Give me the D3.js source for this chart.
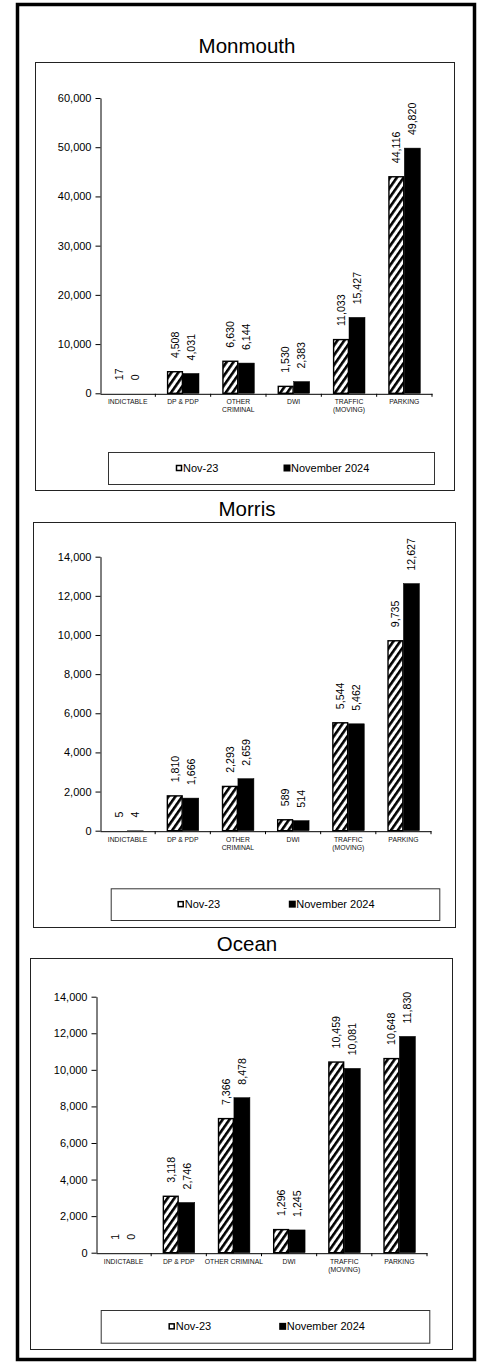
<!DOCTYPE html>
<html>
<head>
<meta charset="utf-8">
<script src="https://cdn.jsdelivr.net/npm/d3@7"></script>
<style>
  body { margin: 0; background: #fff; }
  svg { display: block; font-family: Arial, "Liberation Sans", sans-serif; }
</style>
</head>
<body>
<svg id="chart" width="477" height="1362"></svg>
<script>
// ---------- DATA ----------
const seriesNames = ["Nov-23", "November 2024"];
const categoriesTwoLine = [["INDICTABLE"], ["DP & PDP"], ["OTHER", "CRIMINAL"], ["DWI"], ["TRAFFIC", "(MOVING)"], ["PARKING"]];
const categoriesOcean = [["INDICTABLE"], ["DP & PDP"], ["OTHER CRIMINAL"], ["DWI"], ["TRAFFIC", "(MOVING)"], ["PARKING"]];

const monmouthNov23 = [17, 4508, 6630, 1530, 11033, 44116];
const monmouthNov24 = [0, 4031, 6144, 2383, 15427, 49820];
const monmouthTicks = [0, 10000, 20000, 30000, 40000, 50000, 60000];

const morrisNov23 = [5, 1810, 2293, 589, 5544, 9735];
const morrisNov24 = [4, 1666, 2659, 514, 5462, 12627];
const morrisTicks = [0, 2000, 4000, 6000, 8000, 10000, 12000, 14000];

const oceanNov23 = [1, 3118, 7366, 1296, 10459, 10648];
const oceanNov24 = [0, 2746, 8478, 1245, 10081, 11830];
const oceanTicks = [0, 2000, 4000, 6000, 8000, 10000, 12000, 14000];

// ---------- LAYOUT ----------
const charts = [
  { title: "Monmouth", cats: categoriesTwoLine, a: monmouthNov23, b: monmouthNov24, ticks: monmouthTicks,
    box: [35, 62, 454, 490], titleY: 52.5, x0: 100, x1: 432, y0: 393.3, yTop: 98,
    legend: [108, 452, 434, 484], m1: 179, m2: 287 },
  { title: "Morris", cats: categoriesTwoLine, a: morrisNov23, b: morrisNov24, ticks: morrisTicks,
    box: [33, 522, 455, 927], titleY: 515.5, x0: 100, x1: 431, y0: 830.7, yTop: 556.7,
    legend: [110.7, 888.3, 439.3, 920], m1: 180.7, m2: 292.3 },
  { title: "Ocean", cats: categoriesOcean, a: oceanNov23, b: oceanNov24, ticks: oceanTicks,
    box: [30, 958, 452, 1349], titleY: 950.5, x0: 96, x1: 427, y0: 1252.7, yTop: 996.7,
    legend: [100.7, 1310, 429.3, 1342.7], m1: 171.7, m2: 282.7 }
];

const svg = d3.select("#chart");
const defs = svg.append("defs");
const pat = defs.append("pattern").attr("id", "hatch")
  .attr("patternUnits", "userSpaceOnUse").attr("width", 5.6).attr("height", 5.6)
  .attr("patternTransform", "rotate(35)");
pat.append("rect").attr("width", 5.6).attr("height", 5.6).attr("fill", "#fff");
pat.append("rect").attr("width", 2.6).attr("height", 5.6).attr("fill", "#000");

// outer frame
svg.append("rect").attr("x", 17.5).attr("y", 4.5).attr("width", 457).attr("height", 1355)
  .attr("fill", "none").attr("stroke", "#000").attr("stroke-width", 3.5);

const fmt = d3.format(",");

charts.forEach(cfg => {
  const g = svg.append("g");
  const [bx0, by0, bx1, by1] = cfg.box;
  g.append("rect").attr("x", bx0 + 0.5).attr("y", by0 + 0.5).attr("width", bx1 - bx0).attr("height", by1 - by0)
    .attr("fill", "#fff").attr("stroke", "#222").attr("stroke-width", 1);

  g.append("text").attr("x", 247).attr("y", cfg.titleY).attr("text-anchor", "middle")
    .attr("font-size", 20.5).attr("font-weight", "normal").attr("fill", "#000").text(cfg.title);

  const idx = d3.range(cfg.cats.length);
  const x = d3.scaleBand().domain(idx).range([cfg.x0, cfg.x1]).paddingInner(0).paddingOuter(0);
  const ymax = cfg.ticks[cfg.ticks.length - 1];
  const y = d3.scaleLinear().domain([0, ymax]).range([cfg.y0, cfg.yTop]);

  // y axis
  const ya = g.append("g").attr("transform", `translate(${cfg.x0 + 0.5},0)`)
    .call(d3.axisLeft(y).tickValues(cfg.ticks).tickSize(5).tickSizeOuter(0).tickPadding(4).tickFormat(fmt));
  ya.selectAll("text").attr("font-size", 11).attr("font-family", "Arial, 'Liberation Sans', sans-serif").attr("fill", "#000");
  ya.selectAll("path, line").attr("stroke", "#000");

  // x axis
  const xa = g.append("g").attr("transform", `translate(0,${cfg.y0 + 0.5})`)
    .call(d3.axisBottom(x).tickSize(0).tickSizeOuter(0).tickFormat(""));
  xa.selectAll("path").attr("stroke", "#000");
  xa.selectAll(".tick").remove();
  const bounds = idx.map(i => x(i)).concat([x(idx[idx.length - 1]) + x.bandwidth()]);
  g.selectAll(".xt").data(bounds.slice(1)).join("line")
    .attr("x1", d => d).attr("x2", d => d)
    .attr("y1", cfg.y0 + 0.5).attr("y2", cfg.y0 + 3.5).attr("stroke", "#000");

  // category labels
  cfg.cats.forEach((lines, i) => {
    const cx = x(i) + x.bandwidth() / 2;
    lines.forEach((ln, j) => {
      g.append("text").attr("x", cx).attr("y", cfg.y0 + 10.8 + j * 8.3)
        .attr("text-anchor", "middle").attr("font-size", 6.8).attr("fill", "#111").text(ln);
    });
  });

  // bars
  const bw = 16;
  const series = [{ vals: cfg.a, off: -bw, hatch: true }, { vals: cfg.b, off: 0, hatch: false }];
  series.forEach(s => {
    g.selectAll(null).data(s.vals).join("rect")
      .attr("x", (d, i) => x(i) + x.bandwidth() / 2 + s.off + (s.hatch ? 0.6 : 0))
      .attr("y", d => y(d) + (s.hatch ? 0.6 : 0))
      .attr("width", bw - (s.hatch ? 1.2 : 0))
      .attr("height", d => Math.max(0, cfg.y0 - y(d) - (s.hatch ? 0.6 : 0)))
      .attr("fill", s.hatch ? "url(#hatch)" : "#000")
      .attr("stroke", "#000").attr("stroke-width", s.hatch ? 1.4 : 0.5);
    // value labels
    g.selectAll(null).data(s.vals).join("text")
      .attr("transform", (d, i) => {
        const cx = x(i) + x.bandwidth() / 2 + s.off + bw / 2;
        return `translate(${cx},${y(d) - 13}) rotate(-90)`;
      })
      .attr("dy", "0.36em").attr("font-size", 10.6).attr("fill", "#000")
      .attr("text-anchor", "start").text(d => fmt(d));
  });

  // legend
  const [lx0, ly0, lx1, ly1] = cfg.legend;
  g.append("rect").attr("x", lx0 + 0.5).attr("y", ly0 + 0.5).attr("width", lx1 - lx0).attr("height", ly1 - ly0)
    .attr("fill", "#fff").attr("stroke", "#333").attr("stroke-width", 1);
  const ly = (ly0 + ly1) / 2;
  g.append("rect").attr("x", cfg.m1 - 2.5).attr("y", ly - 2.5).attr("width", 5).attr("height", 5)
    .attr("fill", "#fff").attr("stroke", "#000").attr("stroke-width", 1.5);
  g.append("rect").attr("x", cfg.m2 - 3.5).attr("y", ly - 3.5).attr("width", 7).attr("height", 7).attr("fill", "#000");
  g.append("text").attr("x", cfg.m1 + 4).attr("y", ly + 3.9).attr("font-size", 11).attr("fill", "#000").text(seriesNames[0]);
  g.append("text").attr("x", cfg.m2 + 4).attr("y", ly + 3.9).attr("font-size", 11).attr("fill", "#000").text(seriesNames[1]);
});
</script>
</body>
</html>
